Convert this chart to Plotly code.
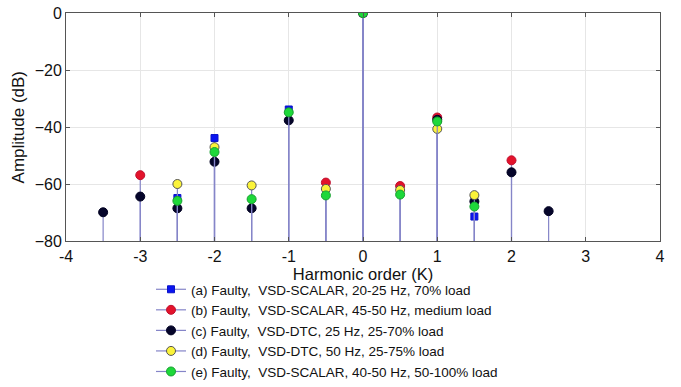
import plotly.graph_objects as go

# Harmonic order positions and amplitudes (dB) for each condition
a_x = [-2.5, -2, -1, 0, 1, 1.5]
a_y = [-64.8, -43.8, -33.8, 0, -37.0, -71.3]

b_x = [-3, -0.5, 0, 0.5, 1, 2]
b_y = [-56.8, -59.4, 0, -60.6, -36.6, -51.6]

c_x = [-3.5, -3, -2.5, -2, -1.5, -1, 0, 1, 1.5, 2, 2.5]
c_y = [-69.8, -64.3, -68.4, -52.1, -68.4, -37.6, 0, -37.4, -66.0, -55.8, -69.4]

d_x = [-2.5, -2, -1.5, -0.5, 0, 0.5, 1, 1.5]
d_y = [-59.9, -47.0, -60.4, -61.6, 0, -62.0, -40.6, -63.8]

e_x = [-2.5, -2, -1.5, -1, -0.5, 0, 0.5, 1, 1.5]
e_y = [-65.8, -48.7, -65.2, -34.8, -63.9, 0, -63.6, -38.0, -67.8]

names = [
    "(a) Faulty,\u00a0 VSD-SCALAR, 20-25 Hz, 70% load",
    "(b) Faulty,\u00a0 VSD-SCALAR, 45-50 Hz, medium load",
    "(c) Faulty,\u00a0 VSD-DTC, 25 Hz, 25-70% load",
    "(d) Faulty,\u00a0 VSD-DTC, 50 Hz, 25-75% load",
    "(e) Faulty,\u00a0 VSD-SCALAR, 40-50 Hz, 50-100% load",
]

BASE = -80
STEM = "#8585c8"

styles = [
    dict(symbol="square", size=7, color="#0a14f0", line=dict(color="#0a14c8", width=1)),
    dict(symbol="circle", size=9, color="#e3132b", line=dict(color="#c01030", width=1)),
    dict(symbol="circle", size=9, color="#05052a", line=dict(color="#000020", width=1)),
    dict(symbol="circle", size=9, color="#fbf33a", line=dict(color="#555555", width=1)),
    dict(symbol="circle", size=9, color="#1ed83a", line=dict(color="#18a030", width=1)),
]

series = [(a_x, a_y), (b_x, b_y), (c_x, c_y), (d_x, d_y), (e_x, e_y)]

fig = go.Figure()
for (xs, ys), name, st in zip(series, names, styles):
    # separate points with gaps so no connecting line is drawn (line shows only in legend)
    gx, gy = [], []
    for xv, yv in zip(xs, ys):
        gx += [xv, None]
        gy += [yv, None]
    fig.add_trace(go.Scatter(
        x=gx, y=gy, mode="lines+markers", name=name,
        line=dict(color=STEM, width=1.2),
        marker=st,
        connectgaps=False,
        # stems from the baseline up to each point
        error_y=dict(type="data", symmetric=False,
                     array=[0 if v is not None else None for v in gy],
                     arrayminus=[(v - BASE) if v is not None else None for v in gy],
                     color=STEM, thickness=1.2, width=0),
    ))

font_family = "Liberation Sans, Arial, sans-serif"

W, H = 681, 387
ML, MR, MT, MB = 66, 21, 13, 0
plot_h = H - MT - MB
axis_bottom_px = 242
y_dom0 = (H - MB - axis_bottom_px) / plot_h
legend_top_px = 275
legend_left_px = 151

fig.update_layout(
    width=W, height=H,
    margin=dict(l=ML, r=MR, t=MT, b=MB),
    paper_bgcolor="white", plot_bgcolor="white",
    font=dict(family=font_family, size=16, color="#111111"),
    showlegend=True,
    legend=dict(
        x=(legend_left_px - ML) / (W - ML - MR),
        y=(H - MB - legend_top_px) / plot_h,
        xanchor="left", yanchor="top",
        font=dict(size=13.5, family=font_family, color="#111111"),
        bgcolor="rgba(0,0,0,0)", tracegroupgap=0, itemwidth=30,
    ),
    xaxis=dict(
        range=[-4, 4], tickvals=[-4, -3, -2, -1, 0, 1, 2, 3, 4],
        ticktext=["-4", "-3", "-2", "-1", "0", "1", "2", "3", "4"],
        showgrid=True, gridcolor="#e6e6e6", gridwidth=1,
        zeroline=False, showline=True, linecolor="#555555", linewidth=1,
        mirror="ticks", ticks="inside", ticklen=4, tickcolor="#555555",
        tickfont=dict(size=16), automargin=False,
        title=dict(text="Harmonic order (K)", font=dict(size=16.5), standoff=0),
    ),
    yaxis=dict(
        domain=[y_dom0, 1],
        range=[-80, 0], tickvals=[-80, -60, -40, -20, 0],
        showgrid=True, gridcolor="#e6e6e6", gridwidth=1,
        zeroline=False, showline=True, linecolor="#555555", linewidth=1,
        mirror="ticks", ticks="inside", ticklen=4, tickcolor="#555555",
        tickfont=dict(size=16), automargin=False,
        title=dict(text="Amplitude (dB)", font=dict(size=17), standoff=5),
    ),
)

fig.write_html("out.html")
